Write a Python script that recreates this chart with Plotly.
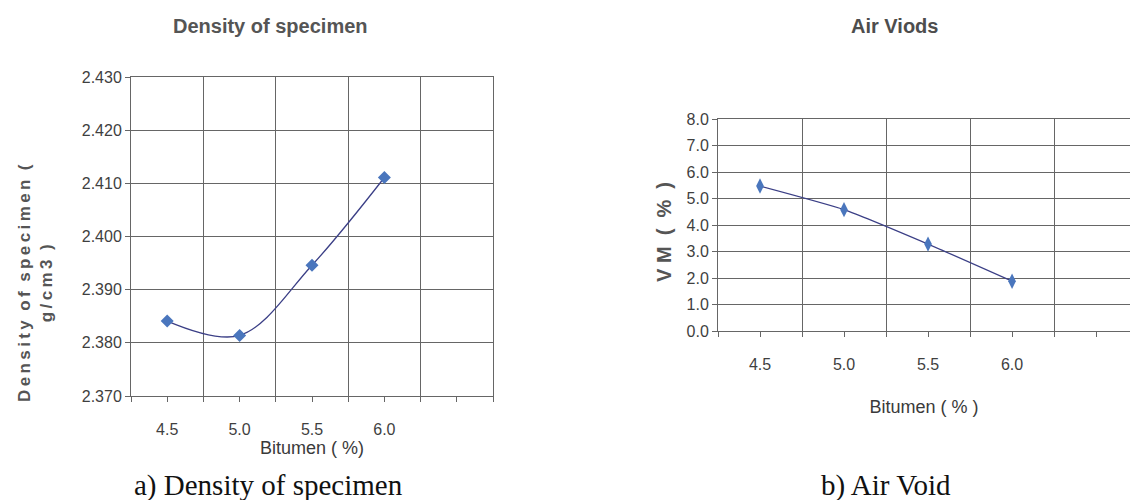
import plotly.graph_objects as go

# ---- data ----
bitumen = [4.5, 5.0, 5.5, 6.0]
density = [2.3841, 2.3814, 2.3946, 2.4111]
air_voids = [5.47, 4.58, 3.28, 1.88]

x_tick_vals = [4.5, 5.0, 5.5, 6.0, 6.5]
x_tick_text = ["4.5", "5.0", "5.5", "6.0", ""]
x_grid_vals = [4.25, 4.75, 5.25, 5.75, 6.25, 6.75]

density_ticks = [2.370, 2.380, 2.390, 2.400, 2.410, 2.420, 2.430]
void_ticks = [0, 1, 2, 3, 4, 5, 6, 7, 8]

SANS = "Liberation Sans, Arial, sans-serif"
SERIF = "Liberation Serif, Times New Roman, serif"
GRID = "#666666"
TXT = "#3f3f3f"
LINE = "#3b3f86"
MARK = "#4a76bd"

TS = "\u2009"  # thin space used for the letter-spaced axis title
dens_title_l1 = TS.join("Density") + "\u00a0 " + TS.join("of") + "\u00a0 " + TS.join("specimen") + "\u00a0 ("
dens_title_l2 = TS.join("g/cm3") + "\u00a0 )"

fig = go.Figure()

fig.add_trace(go.Scatter(
    x=bitumen, y=density, mode="lines+markers",
    line=dict(color=LINE, width=1.3, shape="spline", smoothing=1.0),
    marker=dict(symbol="diamond", size=10, color=MARK),
    xaxis="x", yaxis="y", showlegend=False))

fig.add_trace(go.Scatter(
    x=bitumen, y=air_voids, mode="lines+markers",
    line=dict(color=LINE, width=1.3, shape="spline", smoothing=0.5),
    marker=dict(symbol="diamond-tall", size=11, color=MARK),
    xaxis="x2", yaxis="y2", showlegend=False))

def xaxis_common(rng, dom, anchor, label, standoff):
    return dict(
        domain=dom, anchor=anchor, range=rng,
        tickmode="array", tickvals=x_tick_vals, ticktext=x_tick_text,
        ticks="outside", ticklen=5, tickcolor=GRID, tickwidth=1,
        showgrid=False, zeroline=False,
        showline=True, linecolor=GRID, linewidth=1, mirror=True,
        minor=dict(tickmode="array", tickvals=x_grid_vals, ticks="outside",
                   ticklen=5, tickcolor=GRID, showgrid=True,
                   gridcolor=GRID, gridwidth=1),
        tickfont=dict(family=SANS, size=16, color=TXT),
        ticklabelstandoff=14,
        title=dict(text=label, font=dict(family=SANS, size=18, color="#3a3a3a"),
                   standoff=standoff),
        automargin=False, fixedrange=True)

fig.update_layout(
    width=1130, height=500,
    margin=dict(l=0, r=0, t=0, b=0),
    paper_bgcolor="white", plot_bgcolor="white",
    xaxis=xaxis_common([4.25, 6.75], [131/1130, 493/1130], "y", "Bitumen ( %)", 2),
    yaxis=dict(
        domain=[1 - 396/500, 1 - 77/500], anchor="x", range=[2.370, 2.430],
        tickmode="array", tickvals=density_ticks, tickformat=".3f",
        ticks="outside", ticklen=5, tickcolor=GRID,
        showgrid=True, gridcolor=GRID, gridwidth=1, zeroline=False,
        showline=True, linecolor=GRID, linewidth=1, mirror=True,
        tickfont=dict(family=SANS, size=16, color=TXT),
        automargin=False, fixedrange=True),
    xaxis2=xaxis_common([4.25, 6.702], [718/1130, 1.0], "y2", "Bitumen ( % )", 28),
    yaxis2=dict(
        domain=[1 - 331/500, 1 - 119/500], anchor="x2", range=[0, 8],
        tickmode="array", tickvals=void_ticks, tickformat=".1f",
        ticks="outside", ticklen=5, tickcolor=GRID,
        showgrid=True, gridcolor=GRID, gridwidth=1, zeroline=False,
        showline=True, linecolor=GRID, linewidth=1, mirror=False,
        tickfont=dict(family=SANS, size=16, color=TXT),
        automargin=False, fixedrange=True),
    annotations=[
        dict(text="<b>" + dens_title_l1 + "</b><br><b>" + dens_title_l2 + "</b>",
             x=35/1130, y=1 - 283/500, xref="paper", yref="paper",
             xanchor="center", yanchor="middle", textangle=-90, showarrow=False,
             font=dict(family=SANS, size=17, color="#555555")),
        dict(text="<b>V M \u00a0( \u00a0% \u00a0)</b>",
             x=664/1130, y=1 - 232/500, xref="paper", yref="paper",
             xanchor="center", yanchor="middle", textangle=-90, showarrow=False,
             font=dict(family=SANS, size=20, color="#555555")),
        dict(text="<b>Density of specimen</b>", x=270/1130, y=1 - 26/500,
             xref="paper", yref="paper", xanchor="center", yanchor="middle",
             showarrow=False, font=dict(family=SANS, size=20, color="#555555")),
        dict(text="<b>Air Viods</b>", x=894/1130, y=1 - 26/500,
             xref="paper", yref="paper", xanchor="center", yanchor="middle",
             showarrow=False, font=dict(family=SANS, size=20, color="#4d4d4d")),
        dict(text="a) Density of specimen", x=268/1130, y=1 - 485/500,
             xref="paper", yref="paper", xanchor="center", yanchor="middle",
             showarrow=False, font=dict(family=SERIF, size=29, color="#111111")),
        dict(text="b) Air Void", x=886/1130, y=1 - 485/500,
             xref="paper", yref="paper", xanchor="center", yanchor="middle",
             showarrow=False, font=dict(family=SERIF, size=29, color="#111111")),
    ],
)

fig.write_html("out.html", config={"displayModeBar": False})
